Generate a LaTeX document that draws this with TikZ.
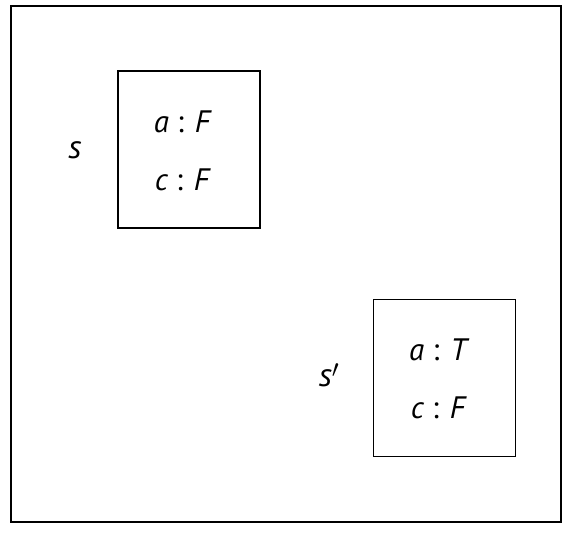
\documentclass[tikz,border=0pt]{standalone}
\usepackage{fontspec}
\setmainfont{PT Sans}
\usetikzlibrary{positioning}

\tikzset{
  statebox/.style={draw, line width=1.6, minimum width=142, minimum height=157, inner sep=0},
  entry/.style={font=\fontsize{31}{34}\selectfont\itshape},
  statename/.style={font=\fontsize{33}{36}\selectfont\itshape}
}

\begin{document}
\begin{tikzpicture}[x=1pt,y=1pt,yscale=-1,xscale=1]
\useasboundingbox (0,0) rectangle (572,533);

%Frame
\draw [line width=2] (11,6) rectangle (561,522);

%State s
\node [statebox] (boxs) at (189,149.5) {};
% Text Node
\node [entry] (sa) at (182,122) {a {\upshape:} F};
% Text Node
\node [entry] (sc) at (182,180) {c {\upshape:} F};
% Text Node
\node [statename] (names) at (75,150) {s};

%State s'
\node [statebox] (boxt) at (444.5,378) {};
% Text Node
\node [entry] (ta) at (438,350) {a {\upshape:} T};
% Text Node
\node [entry] (tc) at (438,408) {c {\upshape:} F};
% Text Node
\node [statename, inner sep=1pt] (namet) at (329,375) {s$^{\prime}$};

\end{tikzpicture}
\end{document}
